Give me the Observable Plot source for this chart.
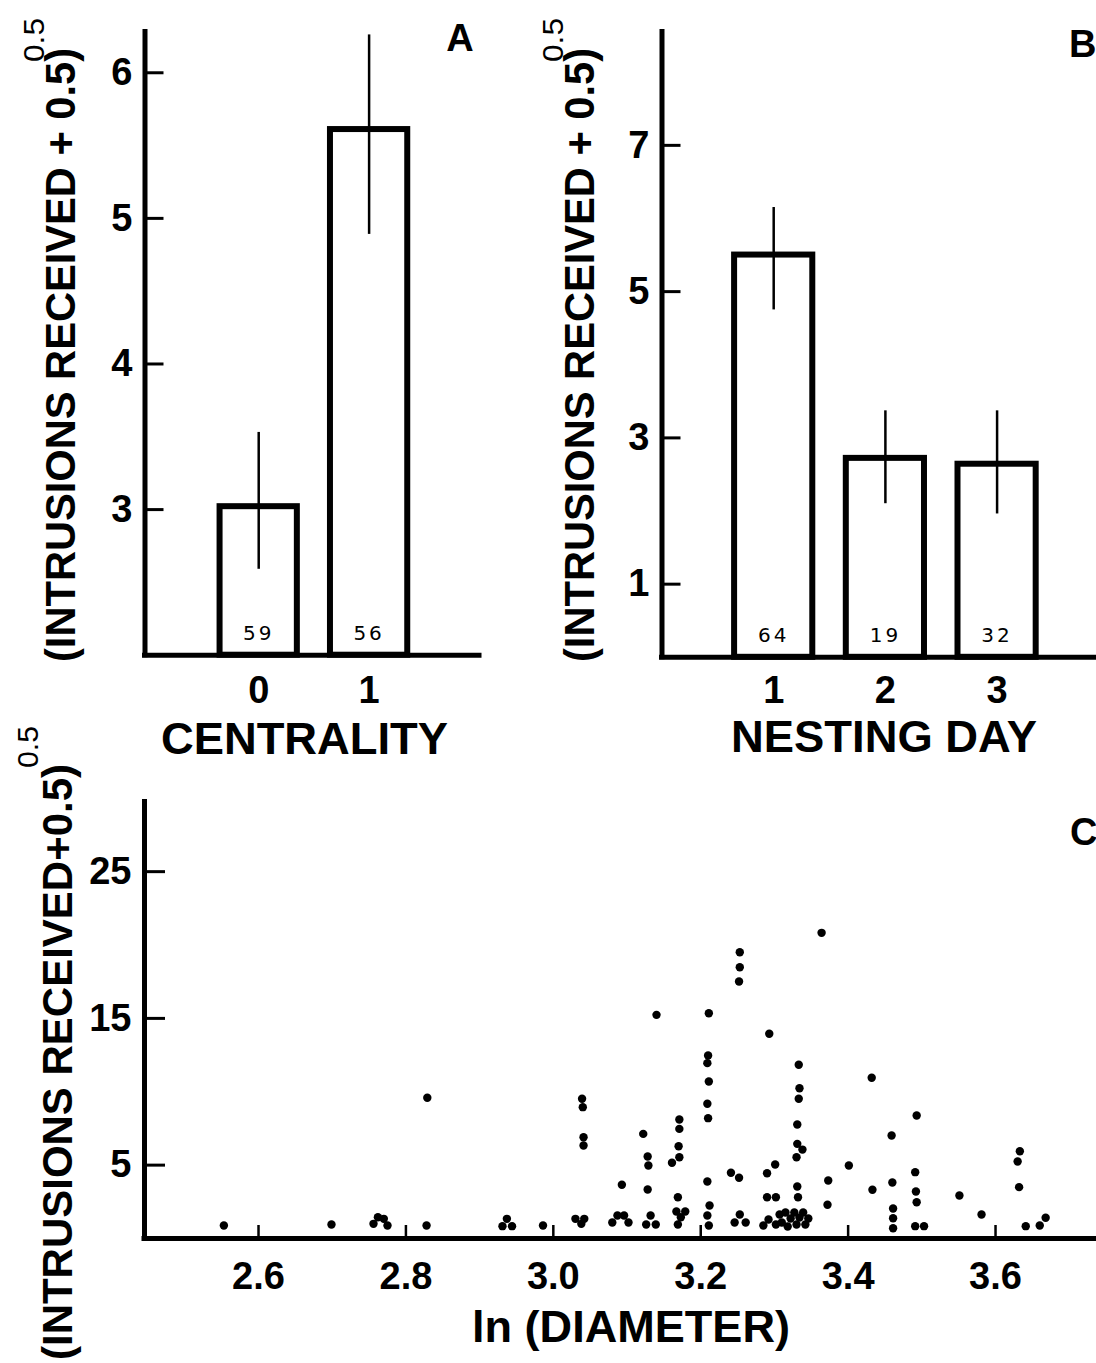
<!DOCTYPE html>
<html><head><meta charset="utf-8">
<script src="https://cdn.jsdelivr.net/npm/d3@7"></script>
<script src="https://cdn.jsdelivr.net/npm/@observablehq/plot@0.6"></script>
<style>
body{margin:0;background:#fff;}
#root{position:relative;width:1096px;height:1363px;overflow:hidden;background:#fff;}
#root svg{position:absolute;overflow:visible;}
</style></head><body><div id="root"></div>
<script>
// ---------- Panel A: centrality ----------
const centrality = [0, 1];
const centralityMean = [3.02, 5.61];
const centralityLo = [2.59, 4.89];
const centralityHi = [3.53, 6.26];
const centralityN = [59, 56];
const aYTicks = [3, 4, 5, 6];

// ---------- Panel B: nesting day ----------
const nestingDay = [1, 2, 3];
const nestingMean = [5.50, 2.72, 2.64];
const nestingLo = [4.75, 2.10, 1.96];
const nestingHi = [6.15, 3.37, 3.37];
const nestingN = [64, 19, 32];
const bYTicks = [1, 3, 5, 7];

// ---------- Panel C: ln(diameter) scatter ----------
const lnDiameter = [
  2.553, 2.699, 2.756, 2.762, 2.770, 2.775, 2.828, 2.829,
  2.931, 2.937, 2.944, 2.986, 3.030, 3.042, 3.038, 3.039, 3.040, 3.041, 3.041,
  3.093, 3.080, 3.087, 3.096, 3.102, 3.126, 3.132, 3.139,
  3.122, 3.128, 3.129, 3.128, 3.140,
  3.364, 3.253, 3.253, 3.252, 3.211, 3.293,
  3.210, 3.209, 3.211, 3.209, 3.210, 3.209, 3.212, 3.209, 3.211,
  3.171, 3.171, 3.170, 3.171, 3.161, 3.169, 3.167, 3.179, 3.173, 3.169,
  3.246, 3.253, 3.261, 3.241, 3.252,
  3.290, 3.301, 3.290, 3.302,
  3.285, 3.292, 3.302, 3.307, 3.310, 3.315, 3.318, 3.322, 3.327, 3.330, 3.334, 3.339, 3.342, 3.346,
  3.333, 3.334, 3.333, 3.331, 3.331, 3.338, 3.330, 3.331, 3.332,
  3.373, 3.372, 3.401, 3.432, 3.433,
  3.459, 3.460, 3.461, 3.461, 3.461,
  3.493, 3.491, 3.492, 3.493, 3.491, 3.503,
  3.551, 3.581, 3.633, 3.630, 3.632, 3.641, 3.660, 3.668
];
const intrusions = [
  0.89, 0.95, 1.00, 1.45, 1.34, 0.89, 0.89, 9.59,
  0.84, 1.34, 0.84, 0.89, 1.34, 1.34, 1.00, 9.52, 8.95, 6.90, 6.34,
  3.66, 1.09, 1.57, 1.57, 1.09, 0.95, 1.57, 0.95,
  7.13, 5.59, 4.97, 3.34, 15.24,
  20.83, 19.51, 18.49, 17.51, 15.35, 13.95,
  12.47, 11.95, 10.70, 9.18, 8.20, 3.88, 2.25, 1.57, 0.89,
  8.11, 7.47, 6.29, 5.54, 5.16, 2.81, 1.84, 1.84, 1.45, 0.95,
  1.09, 1.64, 1.09, 4.48, 4.14,
  4.45, 5.04, 2.81, 2.81,
  0.89, 1.29, 0.95, 1.64, 1.09, 1.77, 0.82, 1.36, 1.77, 0.95, 1.43, 1.77, 0.95, 1.36,
  11.84, 10.24, 9.52, 7.77, 6.45, 6.06, 5.54, 3.54, 2.81,
  3.95, 2.30, 4.97, 10.95, 3.32,
  7.02, 3.82, 2.04, 1.38, 0.70,
  8.38, 4.52, 3.20, 2.47, 0.84, 0.84,
  2.93, 1.64, 5.95, 5.25, 3.50, 0.84, 0.89, 1.41
];
const cYTicks = [5, 15, 25];
const cXTicks = [2.6, 2.8, 3.0, 3.2, 3.4, 3.6];

// ---------- helpers ----------
const FONT = "'Liberation Sans', Arial, Helvetica, sans-serif";
const root = document.getElementById("root");

function place(svg, left, top) {
  svg.style.left = left + "px";
  svg.style.top = top + "px";
  root.appendChild(svg);
}
function addText(svg, {x, y, text, size, weight = "bold", rotate = 0, length = null, anchor = "start", family = FONT}) {
  const t = d3.select(svg).append("text")
    .attr("transform", `translate(${x},${y}) rotate(${rotate})`)
    .attr("font-family", family).attr("font-size", size).attr("font-weight", weight)
    .attr("text-anchor", anchor).attr("fill", "black").text(text);
  if (length) t.attr("textLength", length).attr("lengthAdjust", "spacingAndGlyphs");
  return t;
}
function spaceCounts(svg) {
  d3.select(svg).selectAll('g[aria-description="counts"] text')
    .style("letter-spacing", "3px").attr("font-family", "'DejaVu Sans', sans-serif");
}

const baseStyle = {fontFamily: FONT, background: "transparent", color: "black"};

function barPanel({cats, mean, lo, hi, n, yTicks, X, Y, width, height, margins, halfWidth, xPad}) {
  const data = cats.map((c, i) => ({c, mean: mean[i], lo: lo[i], hi: hi[i], n: n[i]}));
  return Plot.plot({
    width, height, ...margins,
    x: {domain: X, axis: null},
    y: {domain: Y, axis: null},
    style: baseStyle,
    marks: [
      Plot.rect(data, {x1: d => d.c - halfWidth, x2: d => d.c + halfWidth, y1: Y[0], y2: "mean",
        fill: "white", stroke: "black", strokeWidth: 6}),
      Plot.ruleX(data, {x: "c", y1: "lo", y2: "hi", stroke: "black", strokeWidth: 2.5}),
      Plot.text(data, {x: "c", y: Y[0], dy: -22, text: d => String(d.n), fontSize: 20, fill: "black",
        ariaDescription: "counts"}),
      Plot.ruleX([X[0]], {y1: Y[0], y2: Y[1], stroke: "black", strokeWidth: 5, strokeLinecap: "square"}),
      Plot.ruleY([Y[0]], {x1: X[0], x2: X[1], stroke: "black", strokeWidth: 5, strokeLinecap: "square"}),
      Plot.ruleY(yTicks, {x1: X[0], x2: X[0], insetRight: -19, stroke: "black", strokeWidth: 3}),
      Plot.axisY(yTicks, {anchor: "left", tickSize: 0, tickPadding: 12.5, fontSize: 38, fontWeight: "bold",
        label: null, tickFormat: d => String(d)}),
      Plot.axisX(cats, {anchor: "bottom", tickSize: 0, tickPadding: xPad, fontSize: 38, fontWeight: "bold",
        label: null, tickFormat: d => String(d)})
    ]
  });
}

// ---------- Panel A ----------
const A_X = [-1.03, 2.0], A_Y = [2, 6.28];
const plotA = barPanel({
  cats: centrality, mean: centralityMean, lo: centralityLo, hi: centralityHi, n: centralityN,
  yTicks: aYTicks, X: A_X, Y: A_Y, width: 548, height: 760,
  margins: {marginLeft: 144.5, marginRight: 69, marginTop: 31.5, marginBottom: 105.3},
  halfWidth: 0.35, xPad: 21
});
place(plotA, 0, 0);
spaceCounts(plotA);
addText(plotA, {x: 75, y: 662, rotate: -90, text: "(INTRUSIONS RECEIVED + 0.5)", size: 42, length: 614});
addText(plotA, {x: 44, y: 62, rotate: -90, text: "0.5", size: 30, weight: "normal", length: 44});
addText(plotA, {x: 460, y: 51, text: "A", size: 38, anchor: "middle"});
addText(plotA, {x: 161, y: 754, text: "CENTRALITY", size: 44, length: 287});

// ---------- Panel B ----------
const B_X = [0, 3.89], B_Y = [0, 8.55];
const plotB = barPanel({
  cats: nestingDay, mean: nestingMean, lo: nestingLo, hi: nestingHi, n: nestingN,
  yTicks: bYTicks, X: B_X, Y: B_Y, width: 548, height: 760,
  margins: {marginLeft: 113.5, marginRight: 0, marginTop: 31.5, marginBottom: 103.2},
  halfWidth: 0.35, xPad: 19
});
place(plotB, 548, 0);
spaceCounts(plotB);
addText(plotB, {x: 46, y: 662, rotate: -90, text: "(INTRUSIONS RECEIVED + 0.5)", size: 42, length: 614});
addText(plotB, {x: 15, y: 62, rotate: -90, text: "0.5", size: 30, weight: "normal", length: 44});
addText(plotB, {x: 521, y: 57, text: "B", size: 38});
addText(plotB, {x: 183, y: 752, text: "NESTING DAY", size: 44, length: 306});

// ---------- Panel C ----------
const C_X = [2.4453, 3.737], C_Y = [0, 29.74];
const cData = lnDiameter.map((x, i) => ({x, y: intrusions[i]}));
const plotC = Plot.plot({
  width: 1096, height: 603,
  marginLeft: 144, marginRight: 0, marginTop: 41.6, marginBottom: 125,
  x: {domain: C_X, axis: null},
  y: {domain: C_Y, axis: null},
  style: baseStyle,
  marks: [
    Plot.ruleX([C_X[0]], {y1: C_Y[0], y2: C_Y[1], stroke: "black", strokeWidth: 5, strokeLinecap: "square"}),
    Plot.ruleY([C_Y[0]], {x1: C_X[0], x2: C_X[1], stroke: "black", strokeWidth: 5, strokeLinecap: "square"}),
    Plot.ruleY(cYTicks, {x1: C_X[0], x2: C_X[0], insetRight: -21, stroke: "black", strokeWidth: 3}),
    Plot.ruleX(cXTicks, {y1: C_Y[0], y2: C_Y[0], insetTop: -13, stroke: "black", strokeWidth: 2.5}),
    Plot.dot(cData, {x: "x", y: "y", r: 4.2, fill: "black", stroke: null}),
    Plot.axisY(cYTicks, {anchor: "left", tickSize: 0, tickPadding: 13, fontSize: 38, fontWeight: "bold", label: null}),
    Plot.axisX(cXTicks, {anchor: "bottom", tickSize: 0, tickPadding: 24, fontSize: 38, fontWeight: "bold",
      label: null, tickFormat: d3.format(".1f")})
  ]
});
place(plotC, 0, 760);
addText(plotC, {x: 72, y: 600, rotate: -90, text: "(INTRUSIONS RECEIVED+0.5)", size: 42, length: 596});
addText(plotC, {x: 38, y: 8, rotate: -90, text: "0.5", size: 30, weight: "normal", length: 42});
addText(plotC, {x: 1070, y: 85, text: "C", size: 38});
addText(plotC, {x: 472, y: 582, text: "ln (DIAMETER)", size: 44, length: 318});
</script></body></html>
